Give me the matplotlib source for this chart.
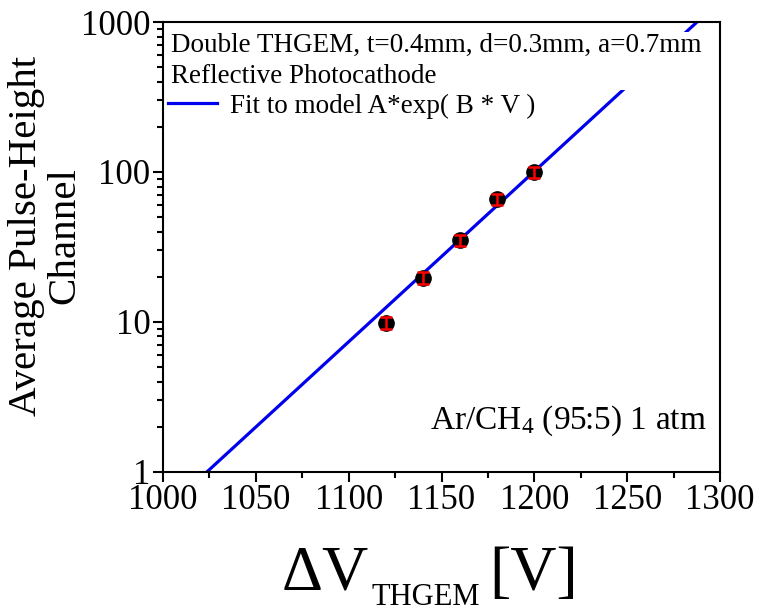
import numpy as np
import matplotlib
matplotlib.use("Agg")
import matplotlib.pyplot as plt
from matplotlib.ticker import MultipleLocator, LogLocator, NullFormatter, FixedLocator

plt.rcParams['font.family'] = ['Liberation Serif', 'DejaVu Serif']
plt.rcParams['mathtext.fontset'] = 'custom'
plt.rcParams['mathtext.rm'] = 'Liberation Serif'
plt.rcParams['mathtext.it'] = 'Liberation Serif:italic'

# measured points
voltage = [1120, 1140, 1160, 1180, 1200]
pulse_height = [9.9, 19.7, 35.0, 66.0, 100.0]
pulse_err = [0.9, 1.7, 3.0, 5.6, 8.5]

# fit A*exp(B*V), written as exp(B*(V - V0))
fit_B = 0.02618
fit_V0 = 1023.7

fig = plt.figure(figsize=(7.58, 6.12), dpi=100)
ax = fig.add_axes([0.215, 0.229, 0.735, 0.735])

v_fit = np.linspace(1000, 1300, 200)
ax.plot(v_fit, np.exp(fit_B * (v_fit - fit_V0)), color='#0000ee', lw=2.3,
        label='Fit to model A*exp( B * V )', zorder=2)

ax.plot(voltage, pulse_height, 'o', color='black', ms=11, zorder=3)
ax.errorbar(voltage, pulse_height, yerr=pulse_err, fmt='none', ecolor='red',
            elinewidth=1.8, capsize=4, capthick=1.8, zorder=4)

ax.set_yscale('log')
ax.set_xlim(1000, 1300)
ax.set_ylim(1, 1000)
ax.xaxis.set_major_locator(MultipleLocator(50))
ax.xaxis.set_minor_locator(MultipleLocator(25))
ax.yaxis.set_major_locator(FixedLocator([1, 10, 100, 1000]))
ax.yaxis.set_major_formatter(plt.FuncFormatter(lambda v, p: '%d' % v))
ax.yaxis.set_minor_locator(LogLocator(base=10, subs=np.arange(2, 10)))
ax.yaxis.set_minor_formatter(NullFormatter())

ax.tick_params(which='both', direction='out', top=False, right=False,
               labelsize=25, width=1.5)
ax.tick_params(which='major', length=7, pad=2)
ax.tick_params(which='minor', length=4)
for s in ax.spines.values():
    s.set_linewidth(1.5)

ax.set_ylabel('Average Pulse-Height\nChannel', fontsize=29.5,
              linespacing=1.05)
ax.yaxis.set_label_coords(-0.142, 0.525)

# x label: big delta V, small lowered subscript, unit
fig.canvas.draw()
r = fig.canvas.get_renderer()
t1 = fig.text(0.372, 0.036, '\u0394V', fontsize=46, ha='left', va='baseline')
bb = t1.get_window_extent(r)
t2 = fig.text(bb.x1 / fig.bbox.width + 0.003, 0.012, 'THGEM', fontsize=22,
              ha='left', va='baseline')
bb = t2.get_window_extent(r)
fig.text(bb.x1 / fig.bbox.width + 0.012, 0.036, '[V]', fontsize=46,
         ha='left', va='baseline')

ax.text(0.015, 0.975, 'Double THGEM, t=0.4mm, d=0.3mm, a=0.7mm\nReflective Photocathode',
        transform=ax.transAxes, fontsize=19.5, va='top', ha='left',
        linespacing=1.3, zorder=5,
        bbox=dict(facecolor='white', edgecolor='none', pad=1))
leg = ax.legend(loc='upper left', bbox_to_anchor=(-0.035, 0.895), frameon=False,
                fontsize=19.5, handlelength=1.8, handletextpad=0.5)

ax.text(0.975, 0.075, r'Ar/CH$_4$ (95:5) 1 atm', transform=ax.transAxes,
        fontsize=24, ha='right', va='bottom')

fig.savefig('out.png', dpi=100)
